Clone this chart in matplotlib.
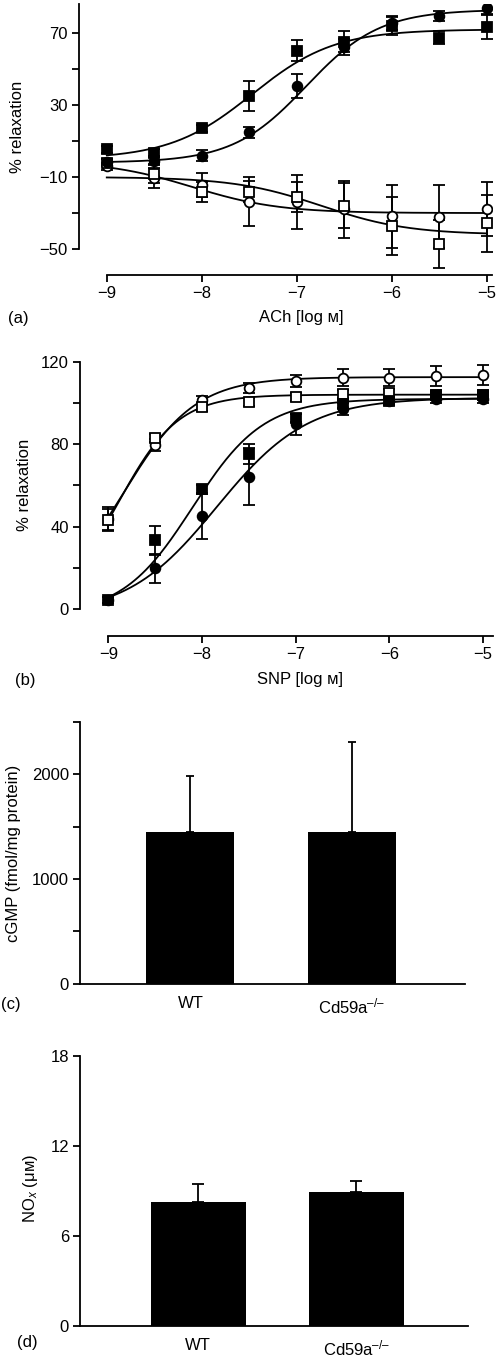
import numpy as np
import matplotlib
matplotlib.use('Agg')
import matplotlib.pyplot as plt

plt.rcParams['font.family'] = ['Liberation Sans', 'DejaVu Sans']
plt.rcParams['mathtext.fontset'] = 'custom'
plt.rcParams['mathtext.rm'] = 'Liberation Sans'
plt.rcParams['mathtext.it'] = 'Liberation Sans:italic'
plt.rcParams['font.size'] = 12
plt.rcParams['axes.linewidth'] = 1.3

FS = 12

# log concentrations
log_conc = [-9, -8.5, -8, -7.5, -7, -6.5, -6, -5.5, -5]

# (a) ACh
ach_filled_sq = [5.4, 3.5, 17, 35, 60.2, 65.2, 74, 67.4, 73.5]
ach_filled_sq_err = [2, 2, 2, 8.5, 6, 6, 5, 3.5, 7]
ach_filled_ci = [-1.5, -1, 1.8, 14.8, 40.5, 62.4, 75.4, 79.4, 83.7]
ach_filled_ci_err = [1.5, 2, 3, 3, 6.5, 4.5, 4, 3, 3.5]
ach_open_ci = [-4, -10.7, -14.4, -23.7, -23.7, -28, -31.7, -32, -28]
ach_open_ci_err = [2, 5.5, 6.5, 13.5, 15, 16, 17.5, 17.5, 15]
ach_open_sq = [-2, -8.5, -18.1, -18.1, -21, -26, -37.2, -47.2, -35.7]
ach_open_sq_err = [2, 5, 5.5, 6, 8.5, 12.5, 16, 13.5, 16]
# fitted sigmoid parameters: start (low conc), plateau (high conc), logEC50, hill
ach_fit_filled_sq = [0, 72, -7.47, 1.0]
ach_fit_filled_ci = [-2, 83, -6.9, 1.12]
ach_fit_open_ci = [-1, -30, -8.1, 0.95]
ach_fit_open_sq = [-10, -42, -6.74, 0.95]

# (b) SNP
snp_open_ci = [44, 79.6, 101.3, 107.1, 110.7, 112.3, 112.3, 113.1, 113.6]
snp_open_ci_err = [5.5, 3, 2, 2.5, 3, 4, 4, 5, 5]
snp_open_sq = [43.3, 83, 98.2, 100.4, 102.8, 104.2, 104.7, 104, 104]
snp_open_sq_err = [5.5, 2, 2, 2, 2, 2, 2, 2, 2]
snp_filled_sq = [4.5, 33.5, 58.2, 75.3, 92.6, 99.5, 101, 103.9, 103.9]
snp_filled_sq_err = [1.5, 7, 2, 5, 2, 2, 1.5, 1.5, 1.5]
snp_filled_ci = [4.5, 20, 45, 64.3, 89.7, 97.1, 101, 102, 102]
snp_filled_ci_err = [1.5, 7, 11, 13.7, 5, 3, 2, 2, 2]
snp_fit_open_ci = [0, 112.5, -8.84, 1.13]
snp_fit_open_sq = [0, 104, -8.89, 1.36]
snp_fit_filled_sq = [-3, 102, -8.1, 1.15]
snp_fit_filled_ci = [-3, 102.5, -7.84, 0.9]

# (c), (d) bars
groups = ['WT', 'Cd59a$^{\u2013/\u2013}$']
cgmp = [1446, 1452]
cgmp_err = [541, 854]
nox = [8.22, 8.89]
nox_err = [1.21, 0.78]


def hill(x, p):
    start, plateau, ec50, h = p
    return start + (plateau - start) / (1 + 10 ** ((ec50 - x) * h))


xs = np.linspace(-9, -5, 300)

fig = plt.figure(figsize=(4.97, 13.56), dpi=100)

mk = dict(color='black', mec='black', ms=7, mew=1.3, capsize=4, elinewidth=1.3,
          capthick=1.3, linestyle='none', zorder=3)


def curve_axes(ax, xlim, ylim, ybounds, yticks, ylabels):
    ax.set_xlim(*xlim)
    ax.set_ylim(*ylim)
    ax.spines['top'].set_visible(False)
    ax.spines['right'].set_visible(False)
    ax.spines['left'].set_bounds(*ybounds)
    ax.spines['bottom'].set_bounds(-9, xlim[1])
    ax.set_xticks([-9, -8, -7, -6, -5])
    ax.set_yticks(yticks)
    ax.set_yticklabels(ylabels)
    ax.tick_params(direction='out', length=5, width=1.3, pad=3, labelsize=FS)


# ---- (a)
ax = fig.add_axes([0.1590, 0.7972, 0.8310, 0.1997])
for p in [ach_fit_filled_sq, ach_fit_filled_ci, ach_fit_open_ci, ach_fit_open_sq]:
    ax.plot(xs, hill(xs, p), color='black', lw=1.3, zorder=1)
ax.errorbar(log_conc, ach_open_ci, yerr=ach_open_ci_err, fmt='o', mfc='white', **mk)
ax.errorbar(log_conc, ach_open_sq, yerr=ach_open_sq_err, fmt='s', mfc='white', **mk)
ax.errorbar(log_conc, ach_filled_ci, yerr=ach_filled_ci_err, fmt='o', mfc='black', **mk)
ax.errorbar(log_conc, ach_filled_sq, yerr=ach_filled_sq_err, fmt='s', mfc='black', **mk)
curve_axes(ax, (-9.292, -4.945), (-64.4, 86), (-50, 86),
           [-50, -30, -10, 10, 30, 50, 70], ['\u221250', '', '\u221210', '', '30', '', '70'])
ax.set_ylabel('% relaxation', fontsize=FS)
ax.yaxis.set_label_coords(-0.131, 0.547)
ax.set_xlabel('ACh [log \u1d0d]', fontsize=FS)
ax.xaxis.set_label_coords(0.537, -0.128)
fig.text(0.016, 1 - 318 / 1356, '(a)', fontsize=FS, va='center')

# ---- (b)
ax = fig.add_axes([0.161, 0.5310, 0.830, 0.2023])
for p in [snp_fit_open_ci, snp_fit_open_sq, snp_fit_filled_sq, snp_fit_filled_ci]:
    ax.plot(xs, hill(xs, p), color='black', lw=1.3, zorder=1)
ax.errorbar(log_conc, snp_open_ci, yerr=snp_open_ci_err, fmt='o', mfc='white', **mk)
ax.errorbar(log_conc, snp_open_sq, yerr=snp_open_sq_err, fmt='s', mfc='white', **mk)
ax.errorbar(log_conc, snp_filled_ci, yerr=snp_filled_ci_err, fmt='o', mfc='black', **mk)
ax.errorbar(log_conc, snp_filled_sq, yerr=snp_filled_sq_err, fmt='s', mfc='black', **mk)
curve_axes(ax, (-9.302, -4.90), (-12.9, 120), (0, 120),
           [0, 20, 40, 60, 80, 100, 120], ['0', '', '40', '', '80', '', '120'])
ax.set_ylabel('% relaxation', fontsize=FS)
ax.yaxis.set_label_coords(-0.116, 0.549)
ax.set_xlabel('SNP [log \u1d0d]', fontsize=FS)
ax.xaxis.set_label_coords(0.533, -0.13)
fig.text(0.03, 1 - 680 / 1356, '(b)', fontsize=FS, va='center')


def bar_axes(ax, xlim, ylim):
    ax.set_xlim(*xlim)
    ax.set_ylim(*ylim)
    ax.spines['top'].set_visible(False)
    ax.spines['right'].set_visible(False)
    ax.set_xticks([0, 1])
    ax.set_xticklabels(groups)
    ax.tick_params(axis='x', length=0, pad=9, labelsize=FS)
    ax.tick_params(axis='y', direction='out', length=5, width=1.3, pad=3, labelsize=FS)


# ---- (c)
ax = fig.add_axes([0.161, 0.2746, 0.7746, 0.1928])
ax.bar([0, 1], cgmp, width=0.546, color='black', zorder=2)
ax.errorbar([0, 1], cgmp, yerr=[[0, 0], cgmp_err], fmt='none', ecolor='black',
            elinewidth=1.3, capsize=3, capthick=1.3, zorder=1)
bar_axes(ax, (-0.685, 1.703), (0, 2500))
ax.set_yticks([0, 500, 1000, 1500, 2000, 2500])
ax.set_yticklabels(['0', '', '1000', '', '2000', ''])
ax.set_ylabel('cGMP (fmol/mg protein)', fontsize=FS)
ax.yaxis.set_label_coords(-0.153, 0.5)
fig.text(0.002, 1 - 1005 / 1356, '(c)', fontsize=FS, va='center')

# ---- (d)
ax = fig.add_axes([0.161, 0.02235, 0.780, 0.1991])
ax.bar([0, 1], nox, width=0.60, color='black', zorder=2)
ax.errorbar([0, 1], nox, yerr=[[0, 0], nox_err], fmt='none', ecolor='black',
            elinewidth=1.3, capsize=4, capthick=1.3, zorder=1)
bar_axes(ax, (-0.749, 1.706), (0, 18))
ax.set_yticks([0, 6, 12, 18])
ax.set_ylabel('NO$_{\\mathit{x}}$ (\u03bc\u1d0d)', fontsize=FS)
ax.yaxis.set_label_coords(-0.103, 0.51)
fig.text(0.034, 1 - 1343 / 1356, '(d)', fontsize=FS, va='center')

fig.savefig('out.png', dpi=100)
